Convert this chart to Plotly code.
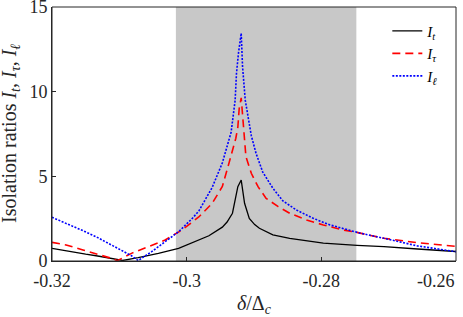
import plotly.graph_objects as go

# ---- data ----
x_t = [-0.3200, -0.3175, -0.3150, -0.3130, -0.3110, -0.3095, -0.3072, -0.3042, -0.3012,
       -0.2982, -0.2967, -0.2947, -0.2940, -0.2932, -0.2924, -0.2919, -0.2914, -0.2907,
       -0.2899, -0.2892, -0.2872, -0.2847, -0.2822, -0.2797, -0.2747, -0.2707, -0.2657, -0.2600]
I_t = [0.75, 0.56, 0.40, 0.28, 0.12, 0.03, 0.20, 0.45, 0.75,
       1.24, 1.49, 2.00, 2.30, 2.82, 4.39, 4.78, 3.41, 2.52,
       2.15, 1.93, 1.54, 1.34, 1.18, 1.05, 0.92, 0.85, 0.71, 0.56]

x_tau = [-0.3200, -0.3179, -0.3154, -0.3132, -0.3112, -0.3103, -0.3082, -0.3057, -0.3032,
         -0.3007, -0.2982, -0.2962, -0.2947, -0.2937, -0.2927, -0.2924, -0.2922, -0.2919,
         -0.2917, -0.2916, -0.2912, -0.2904, -0.2894, -0.2882, -0.2864, -0.2847, -0.2822,
         -0.2797, -0.2767, -0.2752, -0.2707, -0.2657, -0.2607, -0.2600]
I_tau = [1.10, 0.95, 0.65, 0.40, 0.16, 0.02, 0.45, 0.84, 1.24,
         1.83, 2.60, 3.41, 4.40, 5.80, 7.25, 7.90, 9.00, 9.63,
         8.60, 7.74, 6.16, 5.18, 4.39, 3.70, 3.21, 2.82, 2.42,
         2.13, 1.83, 1.73, 1.34, 1.08, 0.89, 0.86]

x_ell = [-0.3200, -0.3179, -0.3154, -0.3132, -0.3102, -0.3082, -0.3072, -0.3052, -0.3032,
         -0.3012, -0.2992, -0.2982, -0.2962, -0.2947, -0.2934, -0.2928, -0.2926, -0.2923,
         -0.2919, -0.2917, -0.2913, -0.2904, -0.2897, -0.2887, -0.2872, -0.2857, -0.2837,
         -0.2812, -0.2787, -0.2762, -0.2744, -0.2707, -0.2657, -0.2600]
I_ell = [2.58, 2.23, 1.79, 1.38, 0.75, 0.31, 0.03, 0.55, 1.14,
         1.73, 2.50, 2.95, 4.35, 5.80, 7.60, 9.50, 11.09, 12.30,
         13.45, 11.48, 9.50, 7.40, 6.36, 5.25, 4.30, 3.55, 3.01,
         2.52, 2.13, 1.85, 1.66, 1.34, 0.89, 0.55]

shade_x = [-0.3016, -0.2748]

x_range = [-0.32, -0.26]
y_range = [0, 15]
x_ticks = [-0.32, -0.30, -0.28, -0.26]
x_ticktext = ["-0.32", "-0.3", "-0.28", "-0.26" + "\u00a0" * 9]
y_ticks = [0, 5, 10, 15]
y_ticktext = ["0", "5", "10", "15"]

names = ["<i>I</i><sub><i>t</i></sub>", "<i>I</i><sub><i>\u03c4</i></sub>", "<i>I</i><sub><i>\u2113</i></sub>"]

FONT = "Liberation Serif, Times New Roman, serif"
AX = "#262626"

fig = go.Figure()
fig.add_vrect(x0=shade_x[0], x1=shade_x[1], fillcolor="#c8c8c8", opacity=1,
              line_width=0, layer="below")
# axes box (top/right frame)
fig.add_shape(type="rect", xref="paper", yref="paper", x0=0, x1=1, y0=0, y1=1,
              line=dict(color=AX, width=1), fillcolor="rgba(0,0,0,0)", layer="above")

fig.add_trace(go.Scatter(x=x_t, y=I_t, mode="lines", name=names[0],
                         line=dict(color="black", width=1.3)))
fig.add_trace(go.Scatter(x=x_tau, y=I_tau, mode="lines", name=names[1],
                         line=dict(color="#ff0000", width=1.6, dash="8px,5px")))
fig.add_trace(go.Scatter(x=x_ell, y=I_ell, mode="lines", name=names[2],
                         line=dict(color="#0000ff", width=1.6, dash="2px,1.5px")))

axis_common = dict(showline=True, linecolor=AX, linewidth=1,
                   ticks="inside", ticklen=4, tickcolor=AX, showgrid=False,
                   zeroline=False, automargin=False, ticklabeloverflow="allow",
                   tickfont=dict(family=FONT, size=18, color=AX))

fig.update_layout(
    width=463, height=317,
    margin=dict(l=52, r=7, t=7, b=56, autoexpand=False),
    paper_bgcolor="white", plot_bgcolor="white",
    font=dict(family=FONT, color=AX),
    xaxis=dict(range=x_range, tickvals=x_ticks, ticktext=x_ticktext,
               ticklabelstandoff=3, **axis_common),
    yaxis=dict(range=y_range, tickvals=y_ticks, ticktext=y_ticktext, **axis_common),
    xaxis2=dict(range=x_range, tickvals=x_ticks, overlaying="x", side="top",
                showticklabels=False, showline=True, linecolor=AX, ticks="inside",
                ticklen=4, tickcolor=AX, showgrid=False, zeroline=False, automargin=False),
    yaxis2=dict(range=y_range, tickvals=y_ticks, overlaying="y", side="right",
                showticklabels=False, showline=True, linecolor=AX, ticks="inside",
                ticklen=4, tickcolor=AX, showgrid=False, zeroline=False, automargin=False),
    showlegend=True,
    legend=dict(x=0.83, y=0.97, xanchor="left", yanchor="top",
                bgcolor="rgba(255,255,255,0)", borderwidth=0,
                font=dict(family=FONT, size=15, color="black"), tracegroupgap=0),
    annotations=[
        dict(text="Isolation ratios <i>I</i><sub><i>t</i></sub>, <i>I</i><sub><i>\u03c4</i></sub>, <i>I</i><sub><i>\u2113</i></sub>",
             xref="paper", yref="paper", x=0, y=0.5, xshift=-42, xanchor="center",
             yanchor="middle", textangle=-90, showarrow=False,
             font=dict(family=FONT, size=20, color=AX)),
        dict(text="<i>\u03b4</i>/\u0394<sub><i>c</i></sub>",
             xref="paper", yref="paper", x=0.5, y=0, yshift=-43, xanchor="center",
             yanchor="middle", showarrow=False,
             font=dict(family=FONT, size=20, color=AX)),
    ],
)

fig.write_html("out.html", config={"displayModeBar": False},
               post_script="document.body.style.margin='0px';document.body.style.overflow='hidden';")
